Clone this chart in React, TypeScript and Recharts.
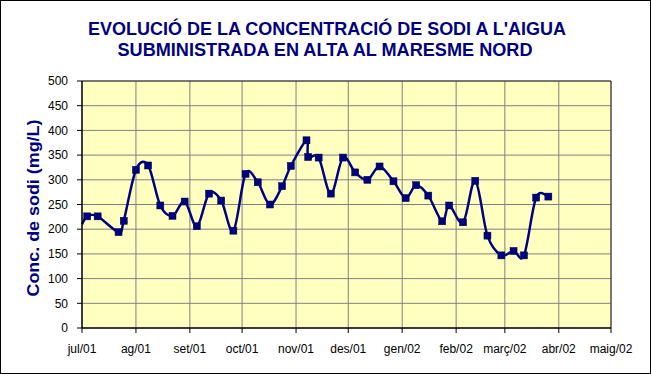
import { LineChart, Line, XAxis, YAxis, CartesianGrid, ReferenceArea } from "recharts";

const sampleDates = [
  "2001-07-01", "2001-07-04", "2001-07-10", "2001-07-22", "2001-07-25",
  "2001-08-01", "2001-08-08", "2001-08-15", "2001-08-22", "2001-08-29",
  "2001-09-05", "2001-09-12", "2001-09-19", "2001-09-26", "2001-10-03",
  "2001-10-10", "2001-10-17", "2001-10-24", "2001-10-29", "2001-11-07",
  "2001-11-08", "2001-11-14", "2001-11-21", "2001-11-28", "2001-12-05",
  "2001-12-12", "2001-12-19", "2001-12-27", "2002-01-03", "2002-01-09",
  "2002-01-16", "2002-01-24", "2002-01-28", "2002-02-05", "2002-02-12",
  "2002-02-19", "2002-02-27", "2002-03-06", "2002-03-12", "2002-03-19",
  "2002-03-26",
];

const sodiValues = [
  210, 226, 226, 194, 217,
  320, 329, 248, 227, 256,
  206, 272, 258, 197, 312,
  295, 250, 287, 328, 380,
  346, 345, 272, 345, 315,
  300, 327, 297, 263, 289,
  268, 216, 248, 214, 298,
  187, 147, 156, 147, 264,
  266,
];

const monthStarts = [
  "2001-07-01", "2001-08-01", "2001-09-01", "2001-10-01", "2001-11-01",
  "2001-12-01", "2002-01-01", "2002-02-01", "2002-03-01", "2002-04-01",
  "2002-05-01",
];
const monthLabels = [
  "jul/01", "ag/01", "set/01", "oct/01", "nov/01", "des/01",
  "gen/02", "feb/02", "març/02", "abr/02", "maig/02",
];
const yTicks = [0, 50, 100, 150, 200, 250, 300, 350, 400, 450, 500];

const titleLines = [
  "EVOLUCIÓ DE LA CONCENTRACIÓ DE SODI A L'AIGUA",
  "SUBMINISTRADA EN ALTA AL MARESME NORD",
];
const yLabel = "Conc. de sodi (mg/L)";

const FONT = "'Liberation Sans', Arial, sans-serif";
const NAVY = "#000080";

const origin = Date.parse(monthStarts[0]);
const toDay = (iso: string) => Math.round((Date.parse(iso) - origin) / 86400000);

const data = sampleDates.map((d, i) => ({ day: toDay(d), sodi: sodiValues[i] }));
const tickDays = monthStarts.map(toDay);
const labelFor = (day: number) => monthLabels[tickDays.indexOf(day)] ?? "";

// Excel-style smoothed line (Catmull-Rom through every point)
function excelSmooth(context: any) {
  let pts: number[][] = [];
  return {
    areaStart() {},
    areaEnd() {},
    lineStart() {
      pts = [];
    },
    point(x: number, y: number) {
      pts.push([+x, +y]);
    },
    lineEnd() {
      const n = pts.length;
      if (!n) return;
      context.moveTo(pts[0][0], pts[0][1]);
      for (let i = 0; i < n - 1; i++) {
        const p0 = pts[i - 1] ?? pts[i];
        const p1 = pts[i];
        const p2 = pts[i + 1];
        const p3 = pts[i + 2] ?? p2;
        context.bezierCurveTo(
          p1[0] + (p2[0] - p0[0]) / 6,
          p1[1] + (p2[1] - p0[1]) / 6,
          p2[0] - (p3[0] - p1[0]) / 6,
          p2[1] - (p3[1] - p1[1]) / 6,
          p2[0],
          p2[1]
        );
      }
    },
  };
}

function SquareDot(props: any) {
  const { cx, cy, index } = props;
  if (index === 0 || cx == null || cy == null) return null;
  return (
    <rect
      key={`dot-${index}`}
      x={cx - 3.5}
      y={cy - 3.5}
      width={7}
      height={7}
      fill={NAVY}
      stroke="#000040"
      strokeWidth={0.5}
    />
  );
}

export default function App() {
  return (
    <div
      style={{
        position: "absolute",
        left: 0,
        top: 0,
        width: 651,
        height: 374,
        background: "#ffffff",
        fontFamily: FONT,
      }}
    >
      <LineChart
        width={651}
        height={374}
        data={data}
        margin={{ top: 81, right: 40, bottom: 16, left: 0 }}
      >
        <CartesianGrid stroke="#808080" fill="#FFFFC0" strokeWidth={1} />
        <XAxis
          dataKey="day"
          type="number"
          domain={[tickDays[0], tickDays[tickDays.length - 1]]}
          ticks={tickDays}
          tickFormatter={labelFor}
          interval={0}
          height={30}
          tickSize={5}
          tickMargin={11}
          axisLine={{ stroke: "#000" }}
          tickLine={{ stroke: "#000" }}
          tick={{ fill: "#000", fontSize: 12, fontFamily: FONT }}
        />
        <YAxis
          type="number"
          domain={[0, 500]}
          ticks={yTicks}
          interval={0}
          width={82}
          tickSize={5}
          tickMargin={9}
          axisLine={{ stroke: "#000" }}
          tickLine={{ stroke: "#000" }}
          tick={{ fill: "#000", fontSize: 12, fontFamily: FONT }}
        />
        <ReferenceArea
          x1={tickDays[0]}
          x2={tickDays[tickDays.length - 1]}
          y1={0}
          y2={500}
          fill="none"
          fillOpacity={0}
          stroke="#303030"
          strokeWidth={1}
        />
        <Line
          type={excelSmooth as any}
          dataKey="sodi"
          stroke={NAVY}
          strokeWidth={2.5}
          dot={<SquareDot />}
          activeDot={false}
          isAnimationActive={false}
        />
      </LineChart>
      <svg
        width={651}
        height={374}
        style={{ position: "absolute", left: 0, top: 0, pointerEvents: "none" }}
      >
        <rect x={0.5} y={0.5} width={650} height={373} fill="none" stroke="#000" />
        <text
          x={327}
          y={35}
          textAnchor="middle"
          fill={NAVY}
          fontSize={17.5}
          fontWeight="bold"
          fontFamily={FONT}
          textLength={478}
          lengthAdjust="spacingAndGlyphs"
        >
          {titleLines[0]}
        </text>
        <text
          x={325}
          y={56}
          textAnchor="middle"
          fill={NAVY}
          fontSize={17.5}
          fontWeight="bold"
          fontFamily={FONT}
          textLength={415}
          lengthAdjust="spacingAndGlyphs"
        >
          {titleLines[1]}
        </text>
        <text
          x={0}
          y={0}
          transform="translate(39 208) rotate(-90)"
          textAnchor="middle"
          fill={NAVY}
          fontSize={16.5}
          fontWeight="bold"
          fontFamily={FONT}
          textLength={177}
          lengthAdjust="spacingAndGlyphs"
        >
          {yLabel}
        </text>
      </svg>
    </div>
  );
}
